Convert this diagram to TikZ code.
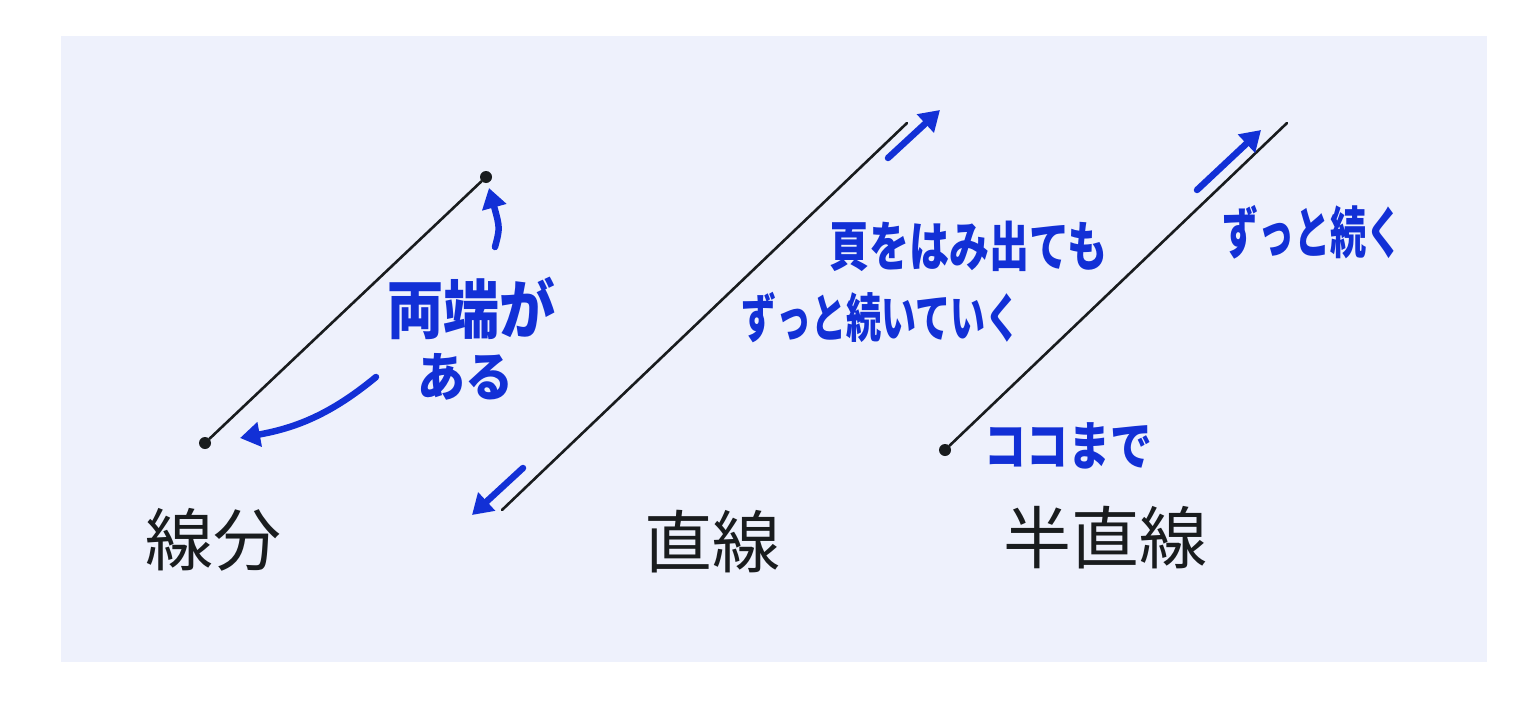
\documentclass[tikz,border=0pt]{standalone}
\usepackage{fontspec}
\usetikzlibrary{arrows.meta}
\newfontfamily\jp{Noto Sans CJK JP}
\definecolor{ink}{RGB}{18,48,214}
\definecolor{panel}{RGB}{238,241,252}
\definecolor{pen}{RGB}{25,28,30}
\tikzset{
  geo/.style={draw=pen, line width=2.6pt, line cap=round},
  endpt/.style={circle, fill=pen, inner sep=0pt, minimum size=12pt},
  bluearrow/.style={draw=ink, line width=6.5pt, line cap=round, -{Triangle[length=20pt,width=24pt]}},
  bluetext/.style={text=ink, font=\jp\bfseries, inner sep=0pt},
  label/.style={text=pen, font=\jp\fontsize{68}{72}\selectfont, inner sep=0pt},
}
\begin{document}
\begin{tikzpicture}[x=1pt,y=-1pt]
\useasboundingbox (0,0) rectangle (1536,701);
\fill[panel] (61,36) rectangle (1487,662);

% segment
\node[endpt] (s1) at (205,443) {};
\node[endpt] (s2) at (486,177) {};
\draw[geo] (s1) -- (s2);
\coordinate (ua0) at (495,247);
\coordinate (ua1) at (489,188);
\draw[bluearrow] (ua0) .. controls (500,228) .. (ua1);
\coordinate (la0) at (376,377);
\coordinate (la1) at (240,438);
\draw[bluearrow] (la0) .. controls (330,415) and (295,428) .. (la1);
\node[bluetext, font=\jp\bfseries\fontsize{56}{60}\selectfont] (t1) at (471,308) {\scalebox{1}[1.15]{両端が}};
\node[bluetext, font=\jp\bfseries\fontsize{48}{52}\selectfont] (t2) at (465,377) {\scalebox{1}[1.1]{ある}};
\node[label] (l1) at (213,540) {線分};

% line
\coordinate (d1) at (502,510);
\coordinate (d2) at (907,123);
\draw[geo] (d1) -- (d2);
\coordinate (da0) at (888,158);
\coordinate (da1) at (940,110);
\draw[bluearrow] (da0) -- (da1);
\coordinate (db0) at (523,468);
\coordinate (db1) at (472,515);
\draw[bluearrow] (db0) -- (db1);
\node[bluetext, font=\jp\bfseries\fontsize{40}{44}\selectfont] (t3) at (968,246) {\scalebox{1}[1.35]{頁をはみ出ても}};
\node[bluetext, font=\jp\bfseries\fontsize{35}{40}\selectfont] (t4) at (881,318) {\scalebox{1}[1.5]{ずっと続いていく}};
\node[label] (l2) at (712,542) {直線};

% ray
\node[endpt] (r1) at (945,450) {};
\coordinate (r2) at (1287,123);
\draw[geo] (r1) -- (r2);
\coordinate (ra0) at (1197,190);
\coordinate (ra1) at (1261,130);
\draw[bluearrow] (ra0) -- (ra1);
\node[bluetext, font=\jp\bfseries\fontsize{36}{40}\selectfont] (t5) at (1312,232) {\scalebox{1}[1.55]{ずっと続く}};
\node[bluetext, font=\jp\bfseries\fontsize{42}{46}\selectfont] (t6) at (1068,446) {\scalebox{1}[1.25]{ココまで}};
\node[label] (l3) at (1105,538) {半直線};
\end{tikzpicture}
\end{document}
